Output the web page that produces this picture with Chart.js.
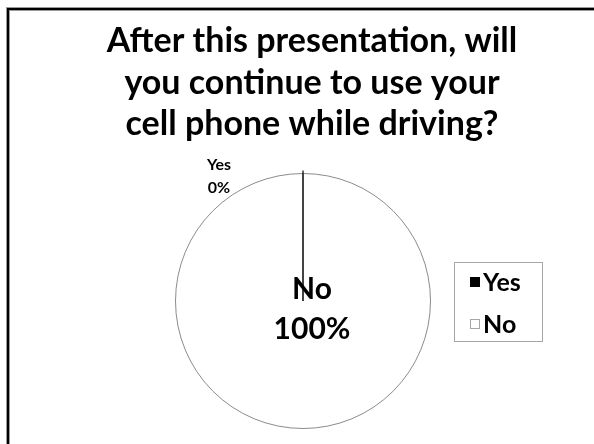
<!DOCTYPE html>
<html>
<head>
<meta charset="utf-8">
<script src="https://cdn.jsdelivr.net/npm/chart.js@4"></script>
<style>
  html, body { margin: 0; padding: 0; background: #fff; }
  #wrap { position: relative; width: 594px; height: 444px; }
  canvas { display: block; }
</style>
</head>
<body>
<div id="wrap"><canvas id="c" width="594" height="444"></canvas></div>
<script>
const titleLines = ['After this presentation, will', 'you continue to use your', 'cell phone while driving?'];
const categories = ['Yes', 'No'];
const percentValues = [0, 100];
const sliceColors = ['#000000', '#ffffff'];

const FONT = "Lato, 'Open Sans', sans-serif";

const decorPlugin = {
  id: 'decor',
  beforeDraw(chart) {
    const ctx = chart.ctx;
    ctx.save();
    ctx.fillStyle = '#fff';
    ctx.fillRect(0, 0, chart.width, chart.height);
    // slide frame (top and left edges)
    ctx.fillStyle = '#9a9a9a';
    ctx.fillRect(6, 7, chart.width, 4);
    ctx.fillRect(6, 7, 4, chart.height);
    ctx.fillStyle = '#000';
    ctx.fillRect(7, 8, chart.width, 2);
    ctx.fillRect(7, 8, 2, chart.height);
    // title
    ctx.fillStyle = '#000';
    ctx.font = 'bold 34px ' + FONT;
    ctx.textAlign = 'center';
    ctx.textBaseline = 'alphabetic';
    const baselines = [52, 94, 135];
    titleLines.forEach((t, i) => ctx.fillText(t, 312, baselines[i]));
    ctx.restore();
  },
  afterDatasetsDraw(chart) {
    const ctx = chart.ctx;
    const meta = chart.getDatasetMeta(0);
    const ds = chart.data.datasets[0];
    const labels = chart.data.labels;
    const total = ds.data.reduce((a, b) => a + b, 0);
    ctx.save();
    // zero slice edge line (Yes)
    const yesArc = meta.data[0];
    const p = yesArc.getProps(['x', 'y', 'startAngle', 'outerRadius'], true);
    ctx.strokeStyle = '#000';
    ctx.lineWidth = 1.2;
    ctx.beginPath();
    ctx.moveTo(p.x, p.y);
    ctx.lineTo(p.x + Math.cos(p.startAngle) * (p.outerRadius + 3), p.y + Math.sin(p.startAngle) * (p.outerRadius + 3));
    ctx.stroke();

    ctx.fillStyle = '#000';
    ctx.textAlign = 'center';
    ctx.textBaseline = 'middle';
    // Yes label (outside, upper left)
    ctx.font = 'bold 16px ' + FONT;
    ctx.fillText(labels[0], p.x - 84, p.y - 136);
    ctx.fillText(Math.round(ds.data[0] / total * 100) + '%', p.x - 84, p.y - 113);
    // No label (inside)
    ctx.font = 'bold 30px ' + FONT;
    ctx.fillText(labels[1], p.x + 9, p.y - 12);
    ctx.fillText(Math.round(ds.data[1] / total * 100) + '%', p.x + 9, p.y + 28);

    // legend
    const lx = 454.5, ly = 262.5, lw = 88, lh = 79;
    ctx.strokeStyle = '#a6a6a6';
    ctx.lineWidth = 1;
    ctx.strokeRect(lx, ly, lw, lh);
    ctx.font = 'bold 25px ' + FONT;
    ctx.textAlign = 'left';
    const rows = [282, 324];
    labels.forEach((lab, i) => {
      ctx.fillStyle = ds.backgroundColor[i];
      ctx.fillRect(470, rows[i] - 5, 10, 10);
      ctx.strokeStyle = i === 0 ? '#000' : '#a6a6a6';
      ctx.strokeRect(470.5, rows[i] - 4.5, 9, 9);
      ctx.fillStyle = '#000';
      ctx.fillText(lab, 483, rows[i] + 1);
    });
    ctx.restore();
  }
};

new Chart(document.getElementById('c'), {
  type: 'pie',
  data: {
    labels: categories,
    datasets: [{
      data: percentValues,
      backgroundColor: sliceColors,
      borderColor: '#8c8c8c',
      borderWidth: 1
    }]
  },
  options: {
    responsive: false,
    animation: false,
    layout: { padding: { left: 175, right: 163, top: 173, bottom: 15 } },
    plugins: {
      legend: { display: false },
      title: { display: false },
      tooltip: { enabled: false }
    }
  },
  plugins: [decorPlugin]
});
</script>
</body>
</html>
